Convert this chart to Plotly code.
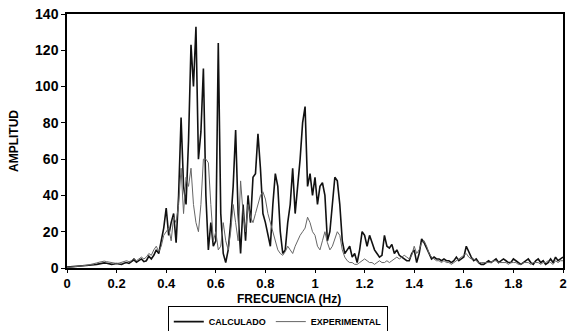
import plotly.graph_objects as go

# Frequency axis (Hz), step 0.01
freq = [round(i * 0.01, 2) for i in range(201)]

calculado = [
    0.5, 0.6, 0.8, 1, 1, 1.2, 1.3, 1.2, 1.1, 1.3,
    1.5, 1.8, 2.0, 2.3, 2.5, 2.8, 2.6, 2.3, 2.0, 2.2,
    2.5, 2.2, 2.0, 2.6, 3.0, 2.5, 3.5, 4.5, 3.2, 4.0,
    5.0, 3.5, 4.0, 6.5, 5.0, 7.0, 10, 8, 15, 22,
    33, 18, 25, 30, 14, 40, 83, 45, 35, 70,
    123, 100, 133, 60, 75, 110, 40, 10, 25, 12,
    15, 124, 30, 8, 3, 10, 25, 45, 76, 30,
    8, 35, 15, 40, 25, 50, 52, 74, 55, 30,
    25, 18, 12, 35, 52, 45, 20, 8, 10, 25,
    35, 55, 30, 45, 60, 80, 89, 45, 52, 40,
    50, 35, 45, 47, 40, 15, 20, 35, 50, 48,
    35, 15, 8, 10, 12, 6, 8, 3, 10, 20,
    18, 12, 18, 14, 10, 8, 6, 7, 18, 12,
    11, 13, 8, 10, 7, 6, 5, 4, 4, 8,
    10, 3, 8, 16, 14, 11, 8, 5, 6, 5,
    5, 4, 5, 4, 4, 3, 4, 6, 4, 5,
    6, 12, 9, 6, 4, 5, 3, 2, 2, 3,
    4, 3, 4, 5, 3, 4, 5, 4, 3, 3,
    5, 4, 3, 2, 3, 4, 5, 3, 2, 4,
    5, 3, 4, 2, 3, 5, 3, 6, 4, 5,
    6,
]

experimental = [
    0.3, 0.4, 0.5, 0.7, 0.8, 1, 1.1, 1.3, 1.5, 1.8,
    2, 2.3, 2.8, 3.2, 3.5, 3.8, 3.5, 3.2, 3, 2.8,
    2.5, 2.7, 3, 3.5, 4, 3.5, 4, 5.5, 4, 5,
    6, 5, 6, 8, 7, 10, 12, 9, 12, 18,
    20, 22, 15, 28, 25, 35, 55, 30, 50, 45,
    55, 35, 25, 20, 35, 60, 60, 58, 35, 15,
    20, 10, 12, 25, 15, 10, 20, 35, 25, 15,
    48, 30, 20, 35, 28, 25, 30, 35, 40, 42,
    38, 30, 25, 20, 15, 10, 8, 7, 9, 12,
    10, 8, 12, 15, 18, 20, 22, 28, 25, 20,
    18, 12, 10, 15, 20, 14, 10, 12, 16, 20,
    18, 10, 6, 4, 3, 3, 2, 2, 3, 4,
    5, 4, 3, 3, 2, 3, 4, 3, 3, 4,
    3, 4, 5, 6, 5, 6, 7, 6, 5, 7,
    12, 8, 10, 14, 15, 12, 8, 6, 5, 4,
    4, 3, 4, 3, 3, 2, 3, 4, 5, 6,
    7, 8, 6, 5, 5, 4, 3, 3, 3, 3,
    3, 3, 4, 4, 3, 3, 3, 3, 2, 3,
    3, 3, 2, 2, 3, 3, 3, 2, 3, 3,
    3, 2, 3, 3, 4, 3, 2, 4, 3, 4,
    4,
]

x_ticks = [0, 0.2, 0.4, 0.6, 0.8, 1, 1.2, 1.4, 1.6, 1.8, 2]
y_ticks = [0, 20, 40, 60, 80, 100, 120, 140]

fig = go.Figure()
fig.add_trace(go.Scatter(x=freq, y=calculado, mode="lines", name="CALCULADO",
                         line=dict(color="#111111", width=1.6)))
fig.add_trace(go.Scatter(x=freq, y=experimental, mode="lines", name="EXPERIMENTAL",
                         line=dict(color="#666666", width=1)))

font_main = "Liberation Sans, Arial, sans-serif"
fig.update_layout(
    width=570, height=331,
    margin=dict(l=67, r=7, t=14, b=63, autoexpand=False),
    paper_bgcolor="white", plot_bgcolor="white",
    font=dict(family=font_main, color="black"),
    showlegend=True,
    legend=dict(orientation="h", x=0.425, xanchor="center", y=-0.15, yanchor="top",
                bordercolor="black", borderwidth=1, bgcolor="white",
                font=dict(size=9, family=font_main, weight="bold"),
                itemwidth=30, tracegroupgap=0),
    annotations=[dict(text="<b>FRECUENCIA (Hz)</b>", xref="paper", yref="paper",
                      x=0.4476, y=-0.124, xanchor="center", yanchor="middle",
                      showarrow=False, font=dict(size=12, family=font_main))],
)
fig.update_xaxes(
    range=[0, 2], tickvals=x_ticks, ticktext=[str(v) for v in x_ticks],
    showgrid=False, zeroline=False, showline=True, linecolor="black", linewidth=1.5,
    mirror=True, ticks="outside", ticklen=3, tickcolor="black",
    tickfont=dict(size=13, weight="bold"),
)
fig.update_yaxes(
    range=[0, 140], tickvals=y_ticks,
    showgrid=False, zeroline=False, showline=True, linecolor="black", linewidth=1.5,
    mirror=True, ticks="outside", ticklen=4, tickcolor="black",
    tickfont=dict(size=14, weight="bold"),
    title=dict(text="AMPLITUD", font=dict(size=12, weight="bold"), standoff=14),
)
fig.write_html("out.html")
